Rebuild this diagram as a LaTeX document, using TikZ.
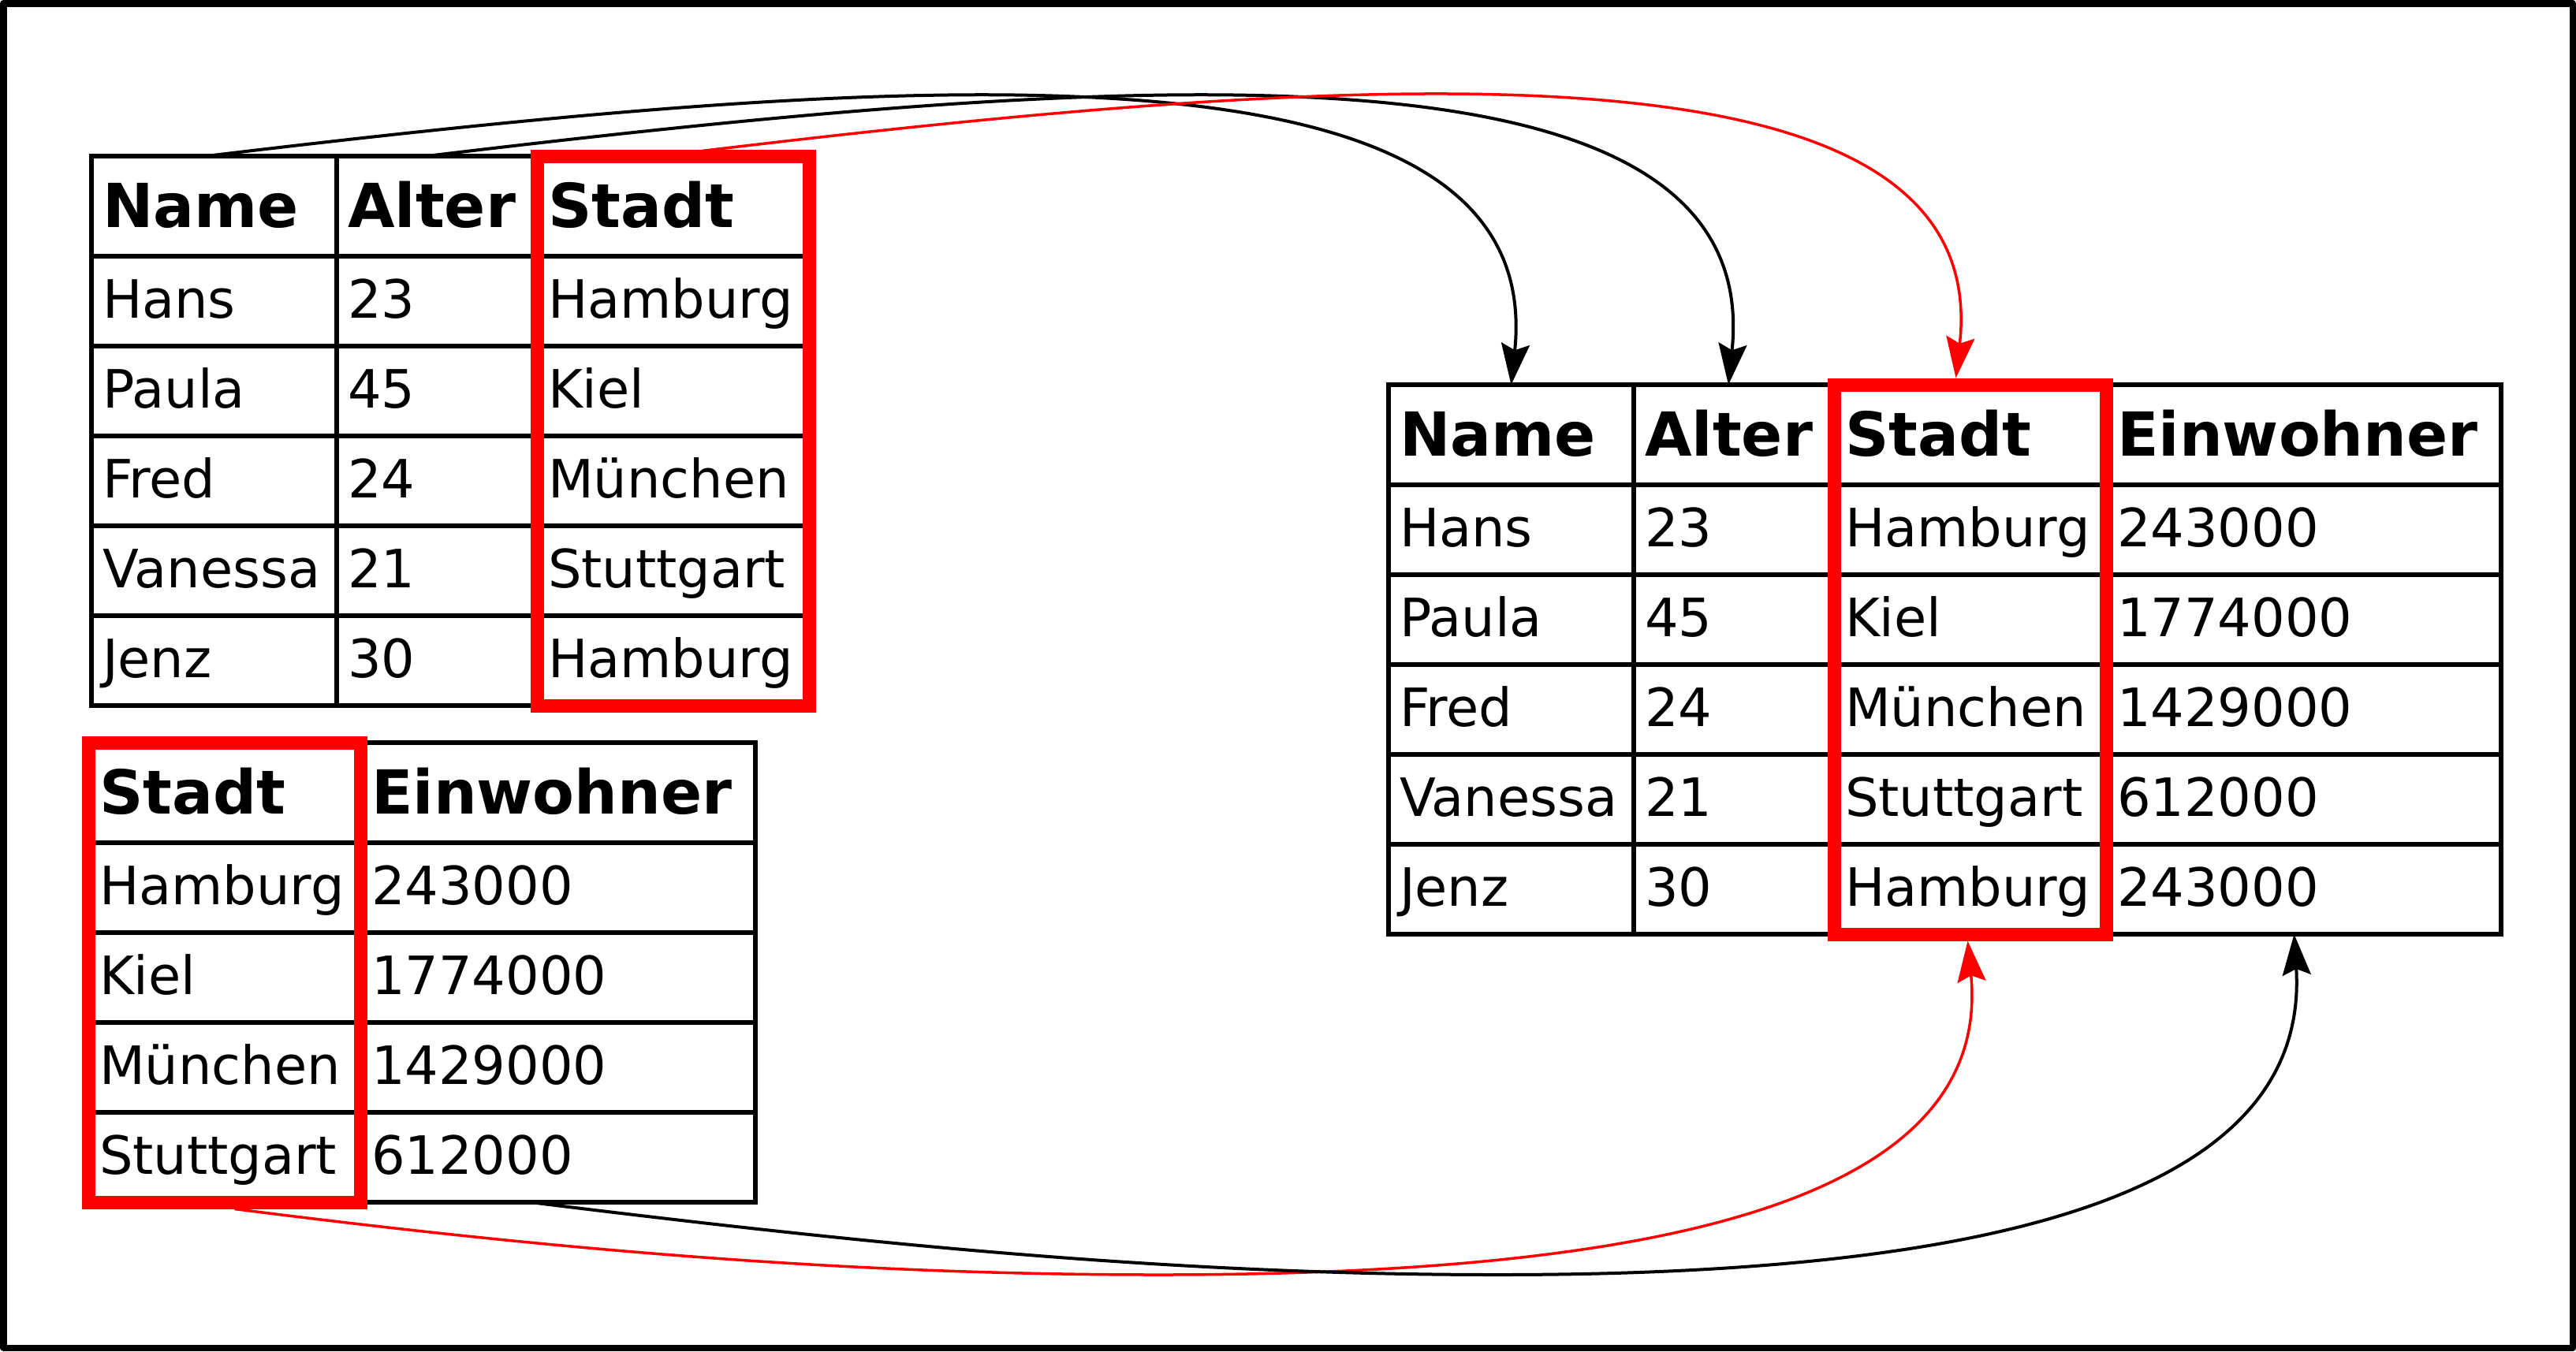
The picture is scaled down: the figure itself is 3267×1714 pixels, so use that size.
\documentclass[tikz,border=0pt]{standalone}
\usepackage{fontspec}
\setmainfont{DejaVu Sans}
\usetikzlibrary{arrows.meta,fit}
\begin{document}
\begin{tikzpicture}[x=1pt,y=-1pt,
  cell/.style={draw, line width=5.5pt, anchor=north west, outer sep=0pt,
    inner xsep=14pt, inner ysep=0pt, minimum height=114pt,
    text height=60pt, text depth=18pt, align=left,
    font=\fontsize{67}{80}\selectfont},
  head/.style={cell, minimum height=127pt, text height=66pt, text depth=12pt,
    font=\fontsize{77}{92}\selectfont\bfseries},
  wname/.style={text width=283pt},
  walter/.style={text width=226pt},
  wstadt/.style={text width=317pt},
  wein/.style={text width=473pt},
  redbox/.style={draw=red, line width=17pt, inner sep=0pt, outer sep=0pt},
  conn/.style={line width=4pt, -{Stealth[length=52pt,width=36pt,inset=8pt]}},
  rconn/.style={conn, red, line width=3.5pt},
  frame/.style={line width=8.5pt, line join=round}
]
\fill[white] (0,0) rectangle (3267,1714);

% ---- table A (top left)
\node[head, wname]  (ta-0-1) at (116,198) {Name};
\node[head, walter] (ta-0-2) at (427,198) {Alter};
\node[head, wstadt] (ta-0-3) at (681,198) {Stadt};
\foreach \n/\a/\s [count=\i] in {Hans/23/Hamburg, Paula/45/Kiel, Fred/24/München, Vanessa/21/Stuttgart, Jenz/30/Hamburg}{
  \node[cell, wname]  (ta-\i-1) at (116,{325+114*(\i-1)}) {\n};
  \node[cell, walter] (ta-\i-2) at (427,{325+114*(\i-1)}) {\a};
  \node[cell, wstadt] (ta-\i-3) at (681,{325+114*(\i-1)}) {\s};
}

% ---- table B (bottom left)
\node[head, wstadt] (tb-0-1) at (112,942) {Stadt};
\node[head, wein]   (tb-0-2) at (457,942) {Einwohner};
\foreach \s/\e [count=\i] in {Hamburg/243000, Kiel/1774000, München/1429000, Stuttgart/612000}{
  \node[cell, wstadt] (tb-\i-1) at (112,{1069+114*(\i-1)}) {\s};
  \node[cell, wein]   (tb-\i-2) at (457,{1069+114*(\i-1)}) {\e};
}

% ---- table C (right, joined)
\node[head, wname]  (tc-0-1) at (1761,488) {Name};
\node[head, walter] (tc-0-2) at (2072,488) {Alter};
\node[head, wstadt] (tc-0-3) at (2326,488) {Stadt};
\node[head, wein]   (tc-0-4) at (2671,488) {Einwohner};
\foreach \n/\a/\s/\e [count=\i] in {Hans/23/Hamburg/243000, Paula/45/Kiel/1774000, Fred/24/München/1429000, Vanessa/21/Stuttgart/612000, Jenz/30/Hamburg/243000}{
  \node[cell, wname]  (tc-\i-1) at (1761,{615+114*(\i-1)}) {\n};
  \node[cell, walter] (tc-\i-2) at (2072,{615+114*(\i-1)}) {\a};
  \node[cell, wstadt] (tc-\i-3) at (2326,{615+114*(\i-1)}) {\s};
  \node[cell, wein]   (tc-\i-4) at (2671,{615+114*(\i-1)}) {\e};
}

% ---- red highlight boxes
\node[redbox, fit=(ta-0-3)(ta-5-3)] (ra) {};
\node[redbox, fit=(tb-0-1)(tb-4-1)] (rb) {};
\node[redbox, fit=(tc-0-3)(tc-5-3)] (rc) {};

% ---- connectors (top)
\draw[conn] ([xshift=-10pt]ta-0-1.north) .. controls +(900,-108) and +(48,-453) .. (tc-0-1.north);
\draw[conn] ([xshift=-13pt]ta-0-2.north) .. controls +(900,-108) and +(48,-453) .. ([xshift=-7pt]tc-0-2.north);
\draw[rconn] ([xshift=-17pt]ra.north) .. controls +(900,-110) and +(50,-444) .. ([xshift=-18pt,yshift=8.5pt]rc.north);

% ---- connectors (bottom)
\coordinate (rm) at (1470,1617);
\coordinate (bm) at (1900,1617);
\draw[rconn] ([xshift=13pt,yshift=-8.5pt]rb.south) .. controls +(400,51) and +(-400,0) .. (rm)
  .. controls +(667,0) and +(31,320) .. ([xshift=-3pt,yshift=-8.5pt]rc.south);
\draw[conn] ([xshift=-35pt]tb-4-2.south) .. controls +(420,52) and +(-420,0) .. (bm)
  .. controls +(657,0) and +(20,321) .. ([xshift=-12pt]tc-5-4.south);

% ---- outer frame
\draw[frame] (4.25,4.25) rectangle (3262.75,1709.75);

\pgfresetboundingbox
\path[use as bounding box] (0,0) rectangle (3267,1714);
\end{tikzpicture}
\end{document}
